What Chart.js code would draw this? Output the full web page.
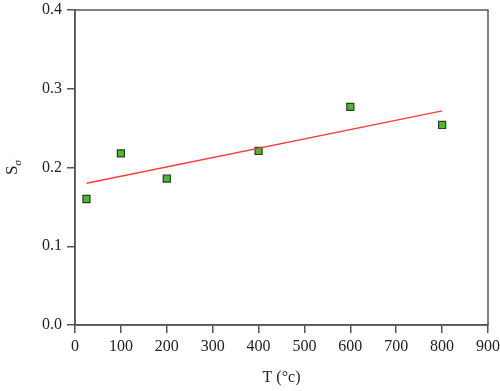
<!DOCTYPE html>
<html>
<head>
<meta charset="utf-8">
<script src="https://cdn.jsdelivr.net/npm/chart.js@4"></script>
<style>
  body { margin: 0; background: #fff; }
  #wrap { width: 500px; height: 391px; }
</style>
</head>
<body>
<div id="wrap"><canvas id="chart"></canvas></div>
<script>
// measured points (T in °C, S sigma)
const tempC = [25, 100, 200, 400, 600, 800];
const sSigma = [0.160, 0.218, 0.186, 0.221, 0.277, 0.254];
// linear fit line, end points
const fitT = [25, 800];
const fitS = [0.180, 0.272];

const xTicks = [0, 100, 200, 300, 400, 500, 600, 700, 800, 900];
const yTicks = [0.0, 0.1, 0.2, 0.3, 0.4];

const axisColor = '#555';
const font = { family: "'Liberation Serif', 'DejaVu Serif', serif", size: 16 };

// box around the plot + the S_sigma label with subscript
const frame = {
  id: 'frame',
  afterDraw(chart) {
    const a = chart.chartArea;
    const ctx = chart.ctx;
    ctx.save();
    ctx.strokeStyle = axisColor;
    ctx.lineWidth = 1.5;
    ctx.strokeRect(a.left, a.top, a.right - a.left, a.bottom - a.top);

    // y title
    ctx.translate(13, (a.top + a.bottom) / 2);
    ctx.rotate(-Math.PI / 2);
    ctx.fillStyle = '#222';
    ctx.textBaseline = 'middle';
    ctx.font = "17px 'Liberation Serif', serif";
    const w1 = ctx.measureText('S').width;
    ctx.font = "italic 11px 'Liberation Serif', serif";
    const w2 = ctx.measureText('σ').width;
    const x0 = -(w1 + w2) / 2;
    ctx.font = "17px 'Liberation Serif', serif";
    ctx.fillText('S', x0, 0);
    ctx.font = "italic 11px 'Liberation Serif', serif";
    ctx.fillText('σ', x0 + w1, 5);
    ctx.restore();
  }
};

const ctx = document.getElementById('chart').getContext('2d');
new Chart(ctx, {
  type: 'scatter',
  data: {
    datasets: [
      {
        label: 'fit',
        data: fitT.map((t, i) => ({ x: t, y: fitS[i] })),
        showLine: true,
        borderColor: '#ff3b3b',
        borderWidth: 1.3,
        pointRadius: 0,
        fill: false
      },
      {
        label: 'S sigma',
        data: tempC.map((t, i) => ({ x: t, y: sSigma[i] })),
        pointStyle: 'rect',
        pointRadius: 5,
        pointBackgroundColor: '#4fb82c',
        pointBorderColor: '#2d3a28',
        pointBorderWidth: 1.2
      }
    ]
  },
  options: {
    responsive: true,
    maintainAspectRatio: false,
    animation: false,
    layout: { padding: { top: 10, right: 12, left: 0, bottom: 0 } },
    plugins: {
      legend: { display: false },
      tooltip: { enabled: false }
    },
    scales: {
      x: {
        type: 'linear',
        min: 0,
        max: 900,
        afterBuildTicks(scale) { scale.ticks = xTicks.map(v => ({ value: v })); },
        afterFit(scale) { scale.height = 66; scale.paddingRight = 0; scale.paddingLeft = 0; },
        grid: { drawOnChartArea: false, drawTicks: true, tickLength: 8, color: axisColor, lineWidth: 1.5 },
        border: { color: axisColor, width: 1.5 },
        ticks: { color: '#222', font: font, padding: 4, maxRotation: 0 },
        title: { display: true, text: 'T (°c)', color: '#222', font: font, padding: { top: 14 } }
      },
      y: {
        type: 'linear',
        min: 0,
        max: 0.4,
        afterBuildTicks(scale) { scale.ticks = yTicks.map(v => ({ value: v })); },
        afterFit(scale) { scale.width = 75; scale.paddingTop = 0; scale.paddingBottom = 0; },
        grid: { drawOnChartArea: false, drawTicks: true, tickLength: 8, color: axisColor, lineWidth: 1.5 },
        border: { color: axisColor, width: 1.5 },
        ticks: { color: '#222', font: font, padding: 5, callback: v => v.toFixed(1) }
      }
    }
  },
  plugins: [frame]
});
</script>
</body>
</html>
